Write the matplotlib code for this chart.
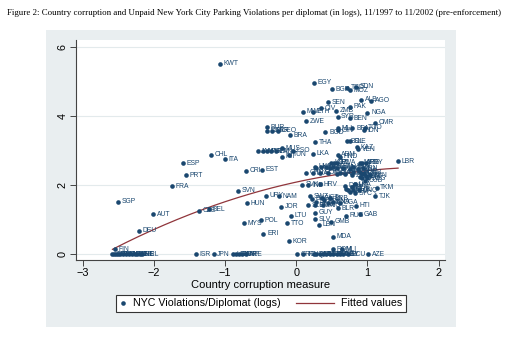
import matplotlib
matplotlib.use("Agg")
import matplotlib.pyplot as plt
import numpy as np
from matplotlib.lines import Line2D
from matplotlib.patches import Rectangle
from matplotlib.legend_handler import HandlerLine2D

plt.rcParams["font.family"] = ["Liberation Sans", "DejaVu Sans"]

# country codes, corruption index, log violations per diplomat
codes = ["KWT", "EGY", "BGR", "TCD", "MOZ", "SDN", "ALB", "AGO", "SEN", "PAK",
         "CIV", "ZMB", "MWI", "ETH", "NGA", "SYR", "BEN", "ZWE", "CMR", "BUR",
         "DZA", "PER", "GEO", "BRA", "BGD", "MLI", "GIN", "BFA", "TGO", "IDN",
         "THA", "BOL", "SLE", "KAZ", "VEN", "MUS", "JAM", "MAR", "PHL", "GTM",
         "PAN", "LSO", "FJI", "TUN", "LKA", "ARM", "HND", "CHL", "ITA", "ESP",
         "PRT", "FRA", "SGP", "AUT", "DEU", "CRI", "EST", "SVN", "CZE", "BEL",
         "HUN", "URY", "NAM", "JOR", "MYS", "POL", "ERI", "TTO", "LTU", "KOR",
         "SVK", "IND", "HRV", "UGA", "BLR", "HTI", "GUY", "SLV", "LBN", "GMB",
         "RUS", "GAB", "MDA", "TKM", "TJK", "LBR",
         "KGZ", "NPL", "RWA", "MKD", "ARG", "PRY",
         "UKR", "VNM", "SUR", "COL", "LAO", "BWA", "GHA", "MNG", "KEN", "YEM", "ECU", "IRN",
         "CHN", "LVA", "ROM", "TUR", "BIH", "MDG", "UZB", "ZAR", "TZA",
         "NER", "AZE", "GNB", "CAF", "COG", "BEN", "CPV", "MRT", "CUB",
         "DOM", "PHL", "NIC", "GTM", "PER", "LKA", "SUR", "SYC", "GNQ",
         "SWZ", "BHS", "LCA", "VCT", "GRD", "MEX", "BRB", "KNA", "DMA", "PNG", "SLB",
         "FIN", "DNK", "NZL", "SWE", "ISL", "CAN", "NOR", "NLD", "LUX", "AUS", "GBR", "CHE", "IRL", "URL",
         "ISR", "JPN", "USA", "OMN", "BHR", "CYP", "ARE",
         "GRC", "IRN", "QAT", "BRN", "MLT", "TWN", "BLZ", "PRK", "ROM", "MNE", "ALM", "LBY", "ECU", "AZE",
         "ROM", "MLI"]
corruption = [-1.07, 0.25, 0.50, 0.71, 0.75, 0.84, 0.91, 1.05, 0.44, 0.76,
              0.35, 0.56, 0.09, 0.24, 1.00, 0.58, 0.75, 0.14, 1.11, -0.41,
              -0.41, -0.34, -0.25, -0.09, 0.41, 0.58, 0.58, 0.79, 0.96, 0.95,
              0.26, 0.71, 0.75, 0.85, 0.87, -0.20, -0.54, -0.46, -0.41, -0.36,
              -0.28, -0.04, -0.20, -0.10, 0.24, 0.58, 0.62, -1.20, -1.00, -1.59,
              -1.55, -1.75, -2.50, -2.01, -2.21, -0.71, -0.48, -0.82, -1.37, -1.23,
              -0.69, -0.42, -0.24, -0.21, -0.73, -0.49, -0.46, -0.13, -0.07, -0.10,
              0.08, 0.17, 0.33, 0.61, 0.59, 0.84, 0.26, 0.27, 0.32, 0.49,
              0.70, 0.90, 0.51, 1.13, 1.11, 1.43,
              0.49, 0.53, 0.57, 0.89, 0.93, 0.98,
              0.26, 0.28, 0.35, 0.42, 0.48, 0.52, 0.57, 0.66, 0.75, 0.80, 0.87, 0.94,
              0.14, 0.24, 0.34, 0.45, 0.57, 0.61, 0.69, 0.78, 0.80,
              0.90, 0.92, 0.95, 0.98, 1.00, 1.03, 0.92, 0.89, 0.97,
              0.69, 0.70, 0.73, 0.75, 0.78, 0.83, 0.80, 0.83, 0.88,
              0.19, 0.22, 0.28, 0.36, 0.39, 0.44, 0.48, 0.52, 0.27, 0.38, 0.17,
              -2.55, -2.58, -2.56, -2.53, -2.50, -2.47, -2.43, -2.39, -2.35, -2.31, -2.27, -2.23, -2.19, -2.16,
              -1.41, -1.16, -0.89, -0.85, -0.80, -0.76, -0.71,
              0.01, 0.10, 0.25, 0.28, 0.33, 0.38, 0.42, 0.48, 0.52, 0.57, 0.62, 0.66, 0.73, 1.01,
              0.52, 0.64]
violations = [5.51, 4.95, 4.77, 4.81, 4.74, 4.84, 4.46, 4.43, 4.39, 4.26,
              4.22, 4.15, 4.12, 4.12, 4.09, 3.97, 3.93, 3.85, 3.80, 3.67,
              3.57, 3.57, 3.57, 3.44, 3.52, 3.64, 3.58, 3.64, 3.66, 3.59,
              3.23, 3.27, 3.27, 3.09, 3.04, 3.07, 2.97, 2.97, 2.97, 2.97,
              2.98, 2.99, 2.82, 2.87, 2.91, 2.87, 2.82, 2.87, 2.75, 2.63,
              2.29, 1.97, 1.52, 1.16, 0.68, 2.41, 2.44, 1.83, 1.26, 1.30,
              1.47, 1.69, 1.67, 1.38, 0.90, 0.99, 0.60, 0.89, 1.12, 0.38,
              2.01, 1.99, 2.02, 1.49, 1.33, 1.40, 1.20, 1.01, 0.86, 0.94,
              1.12, 1.16, 0.51, 1.92, 1.68, 2.69,
              2.65, 2.65, 2.65, 2.65, 2.65, 2.65,
              2.53, 2.48, 2.51, 2.53, 2.48, 2.53, 2.49, 2.50, 2.47, 2.53, 2.45, 2.48,
              2.36, 2.34, 2.36, 2.34, 2.32, 2.36, 2.32, 2.29, 2.39,
              2.39, 2.32, 2.36, 2.26, 2.19, 2.29, 2.19, 2.24, 2.13,
              1.98, 1.90, 1.85, 1.80, 1.93, 2.03, 1.87, 1.77, 1.85,
              1.68, 1.61, 1.52, 1.64, 1.57, 1.49, 1.62, 1.52, 1.42, 1.42, 1.41,
              0.14, 0.0, 0.0, 0.0, 0.0, 0.0, 0.0, 0.0, 0.0, 0.0, 0.0, 0.0, 0.0, 0.0,
              0.0, 0.0, 0.0, 0.0, 0.0, 0.0, 0.0,
              0.0, 0.0, 0.0, 0.0, 0.0, 0.0, 0.0, 0.0, 0.0, 0.0, 0.0, 0.0, 0.0, 0.0,
              0.14, 0.15]

title = ("Figure 2: Country corruption and Unpaid New York City Parking Violations per diplomat "
         "(in logs), 11/1997 to 11/2002 (pre-enforcement)")

navy = "#1a476f"
maroon = "#90353b"

x = np.array(corruption)
y = np.array(violations)

fig = plt.figure(figsize=(5.11, 3.39), dpi=100)
fig.patches.append(Rectangle((0.090, 0.035), 0.802, 0.877, transform=fig.transFigure,
                             facecolor="#e9eef0", edgecolor="none", zorder=-10))
ax = fig.add_axes([0.149, 0.233, 0.722, 0.649])
ax.set_facecolor("white")

ax.scatter(x, y, s=11, color=navy, zorder=3, linewidths=0)
for c, xi, yi in zip(codes, x, y):
    ax.annotate(c, (xi, yi), xytext=(2.6, 0), textcoords="offset points",
                va="center", ha="left", fontsize=4.9, color=navy, zorder=4)

# quadratic fit like Stata qfit
coef = np.polyfit(x, y, 2)
xf = np.linspace(x.min(), x.max(), 200)
ax.plot(xf, np.polyval(coef, xf), color=maroon, lw=0.9, zorder=2)

ax.set_xlim(-3.09, 2.09)
ax.set_ylim(-0.165, 6.19)
ax.set_xticks([-3, -2, -1, 0, 1, 2])
ax.set_yticks([0, 2, 4, 6])
ax.set_yticklabels(["0", "2", "4", "6"], rotation=90, va="center")
ax.grid(axis="y", color="#e3eaec", lw=0.8)
ax.set_axisbelow(True)
for s in ["top", "right"]:
    ax.spines[s].set_visible(False)
for s in ["left", "bottom"]:
    ax.spines[s].set_color("#444444")
    ax.spines[s].set_linewidth(0.8)
ax.tick_params(labelsize=7.8, length=4, width=0.7, color="#444444", pad=2)
ax.set_xlabel("Country corruption measure", fontsize=8.0, labelpad=1)


class NarrowHandler(HandlerLine2D):
    def legend_artist(self, legend, orig_handle, fontsize, handlebox):
        handlebox.width = 0.7 * fontsize
        return super().legend_artist(legend, orig_handle, fontsize, handlebox)


h1 = Line2D([], [], ls="none", marker="o", ms=3.3, color=navy, mew=0)
h2 = Line2D([], [], color=maroon, lw=0.9)
leg = fig.legend([h1, h2], ["NYC Violations/Diplomat (logs)", "Fitted values"],
                 loc="center", bbox_to_anchor=(0.51, 0.105), ncol=2, fontsize=7.7,
                 handlelength=3.6, handletextpad=0.6, columnspacing=1.4,
                 fancybox=False, edgecolor="#333333", framealpha=1,
                 borderpad=0.35, numpoints=1,
                 handler_map={h1: NarrowHandler(numpoints=1)})
leg.get_frame().set_linewidth(0.8)

fig.text(0.014, 0.962, title, fontsize=6.4, family="Liberation Serif", va="center")

fig.savefig("out.png", dpi=100)
